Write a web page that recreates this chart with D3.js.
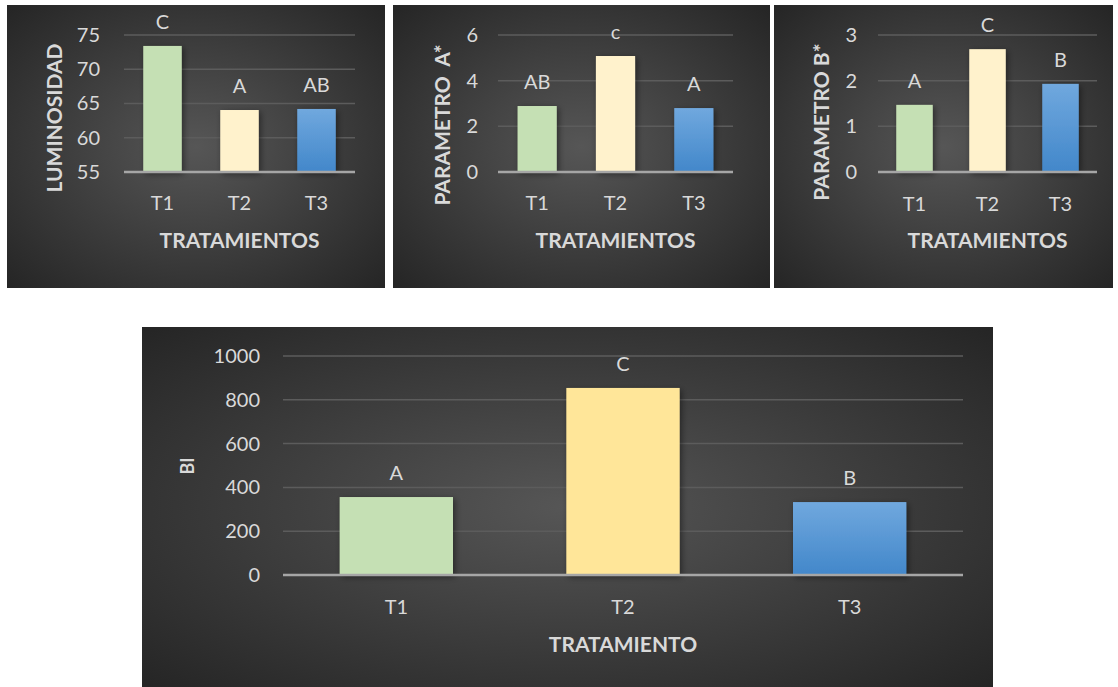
<!DOCTYPE html>
<html>
<head>
<meta charset="utf-8">
<script src="https://cdn.jsdelivr.net/npm/d3@7"></script>
<style>
  html, body { margin: 0; padding: 0; background: #ffffff; }
  svg { display: block; font-family: Lato, "Open Sans", sans-serif; }
  text { white-space: pre; }
</style>
</head>
<body>
<svg id="chart" width="1118" height="687"></svg>
<script>
// Treatments and measured values
const treatments = ["T1", "T2", "T3"];

const luminosidad = [73.4, 64.05, 64.2];
const luminosidadLetters = ["C", "A", "AB"];
const luminosidadTicks = [55, 60, 65, 70, 75];

const parametroA = [2.89, 5.08, 2.8];
const parametroALetters = ["AB", "c", "A"];
const parametroATicks = [0, 2, 4, 6];

const parametroB = [1.47, 2.69, 1.93];
const parametroBLetters = ["A", "C", "B"];
const parametroBTicks = [0, 1, 2, 3];

const bi = [356, 854, 333];
const biLetters = ["A", "C", "B"];
const biTicks = [0, 200, 400, 600, 800, 1000];

const svg = d3.select("#chart");
const defs = svg.append("defs");

// Dark radial panel background
const bg = defs.append("radialGradient").attr("id", "panelBg")
  .attr("cx", "50%").attr("cy", "50%").attr("r", "72%");
bg.append("stop").attr("offset", "0%").attr("stop-color", "#565656");
bg.append("stop").attr("offset", "100%").attr("stop-color", "#242424");

// Blue bar gradient
const blue = defs.append("linearGradient").attr("id", "blueBar")
  .attr("x1", 0).attr("y1", 0).attr("x2", 0).attr("y2", 1);
blue.append("stop").attr("offset", "0%").attr("stop-color", "#70a8de");
blue.append("stop").attr("offset", "100%").attr("stop-color", "#4287ca");

// Soft shadow under bars
const shadow = defs.append("filter").attr("id", "barShadow")
  .attr("x", "-20%").attr("y", "-20%").attr("width", "150%").attr("height", "150%");
shadow.append("feDropShadow").attr("dx", 2).attr("dy", 2)
  .attr("stdDeviation", 3).attr("flood-color", "#000").attr("flood-opacity", 0.45);

const textColor = "#d9d9d9";

function drawPanel(cfg) {
  const g = svg.append("g");
  g.append("rect")
    .attr("x", cfg.box[0]).attr("y", cfg.box[1])
    .attr("width", cfg.box[2]).attr("height", cfg.box[3])
    .attr("fill", "url(#panelBg)");

  const x = d3.scaleBand().domain(treatments)
    .range([cfg.plot[0], cfg.plot[1]]).paddingInner(0.5).paddingOuter(0.25);
  const y = d3.scaleLinear().domain(cfg.domain).range([cfg.plot[3], cfg.plot[2]]);

  // Horizontal gridlines
  g.append("g").selectAll("line")
    .data(cfg.ticks.filter(t => t !== cfg.domain[0]))
    .join("line")
    .attr("x1", cfg.plot[0]).attr("x2", cfg.plot[1])
    .attr("y1", d => y(d)).attr("y2", d => y(d))
    .attr("stroke", "#5c5c5c").attr("stroke-width", 1.5);

  // Y axis tick labels
  const yAxis = d3.axisLeft(y).tickValues(cfg.ticks).tickFormat(d3.format("d"))
    .tickSize(0).tickPadding(cfg.tickGap);
  const ya = g.append("g").attr("transform", `translate(${cfg.plot[0]},0)`).call(yAxis);
  ya.select(".domain").remove();
  ya.selectAll("text").attr("fill", textColor).attr("font-size", cfg.tickSize)
    .attr("font-family", "Lato, sans-serif");

  // Bars
  g.append("g").selectAll("rect")
    .data(cfg.values)
    .join("rect")
    .attr("x", (d, i) => x(treatments[i]))
    .attr("width", x.bandwidth())
    .attr("y", d => y(d))
    .attr("height", d => y(cfg.domain[0]) - y(d))
    .attr("fill", (d, i) => cfg.colors[i])
    .attr("filter", "url(#barShadow)");

  // Category axis line and labels
  g.append("line")
    .attr("x1", cfg.plot[0]).attr("x2", cfg.plot[1])
    .attr("y1", cfg.plot[3]).attr("y2", cfg.plot[3])
    .attr("stroke", "#a6a6a6").attr("stroke-width", 2.5);

  const xAxis = d3.axisBottom(x).tickSize(0).tickPadding(0);
  const xa = g.append("g").attr("transform", `translate(0,${cfg.xTickY})`).call(xAxis);
  xa.select(".domain").remove();
  xa.selectAll("text").attr("fill", textColor).attr("font-size", cfg.catSize)
    .attr("font-family", "Lato, sans-serif").attr("dy", "0.35em").attr("y", 0);

  // Significance letters above bars
  g.append("g").selectAll("text")
    .data(cfg.values)
    .join("text")
    .attr("x", (d, i) => x(treatments[i]) + x.bandwidth() / 2)
    .attr("y", d => y(d) - 17)
    .attr("text-anchor", "middle")
    .attr("fill", textColor).attr("font-size", cfg.letterSize)
    .text((d, i) => cfg.letters[i]);

  // Axis titles
  g.append("text")
    .attr("x", (cfg.plot[0] + cfg.plot[1]) / 2).attr("y", cfg.xTitleY)
    .attr("dy", "0.35em").attr("text-anchor", "middle")
    .attr("fill", textColor).attr("font-weight", "bold").attr("font-size", cfg.titleSize)
    .text(cfg.xTitle);

  g.append("text")
    .attr("transform", `translate(${cfg.yTitlePos[0]},${cfg.yTitlePos[1]}) rotate(-90)`)
    .attr("dy", "0.35em").attr("text-anchor", "middle")
    .attr("fill", textColor).attr("font-weight", "bold").attr("font-size", cfg.yTitleSize)
    .text(cfg.yTitle);
}

const smallColors = ["#c5e0b4", "#fff2cc", "url(#blueBar)"];

drawPanel({
  box: [7, 5, 378, 283], plot: [124, 355, 35, 172],
  domain: [55, 75], ticks: luminosidadTicks, values: luminosidad, letters: luminosidadLetters,
  colors: smallColors, tickGap: 24, tickSize: 20, catSize: 20, letterSize: 20,
  xTickY: 203, xTitleY: 241, xTitle: "TRATAMIENTOS", titleSize: 21,
  yTitle: "LUMINOSIDAD", yTitlePos: [55, 118], yTitleSize: 21
});

drawPanel({
  box: [393, 5, 377, 283], plot: [498, 733, 35, 172],
  domain: [0, 6], ticks: parametroATicks, values: parametroA, letters: parametroALetters,
  colors: smallColors, tickGap: 20, tickSize: 20, catSize: 20, letterSize: 20,
  xTickY: 203, xTitleY: 241, xTitle: "TRATAMIENTOS", titleSize: 21,
  yTitle: "PARAMETRO  A*", yTitlePos: [443, 125], yTitleSize: 21
});

drawPanel({
  box: [774, 5, 339, 283], plot: [878, 1097, 35, 172],
  domain: [0, 3], ticks: parametroBTicks, values: parametroB, letters: parametroBLetters,
  colors: smallColors, tickGap: 21, tickSize: 20, catSize: 20, letterSize: 20,
  xTickY: 204, xTitleY: 241, xTitle: "TRATAMIENTOS", titleSize: 21,
  yTitle: "PARAMETRO B*", yTitlePos: [822, 122], yTitleSize: 21
});

drawPanel({
  box: [142, 327, 851, 360], plot: [283, 963, 356, 575],
  domain: [0, 1000], ticks: biTicks, values: bi, letters: biLetters,
  colors: ["#c5e0b4", "#ffe699", "url(#blueBar)"], tickGap: 23, tickSize: 20, catSize: 20, letterSize: 20,
  xTickY: 607, xTitleY: 645, xTitle: "TRATAMIENTO", titleSize: 21,
  yTitle: "BI", yTitlePos: [188, 466], yTitleSize: 18
});
</script>
</body>
</html>
